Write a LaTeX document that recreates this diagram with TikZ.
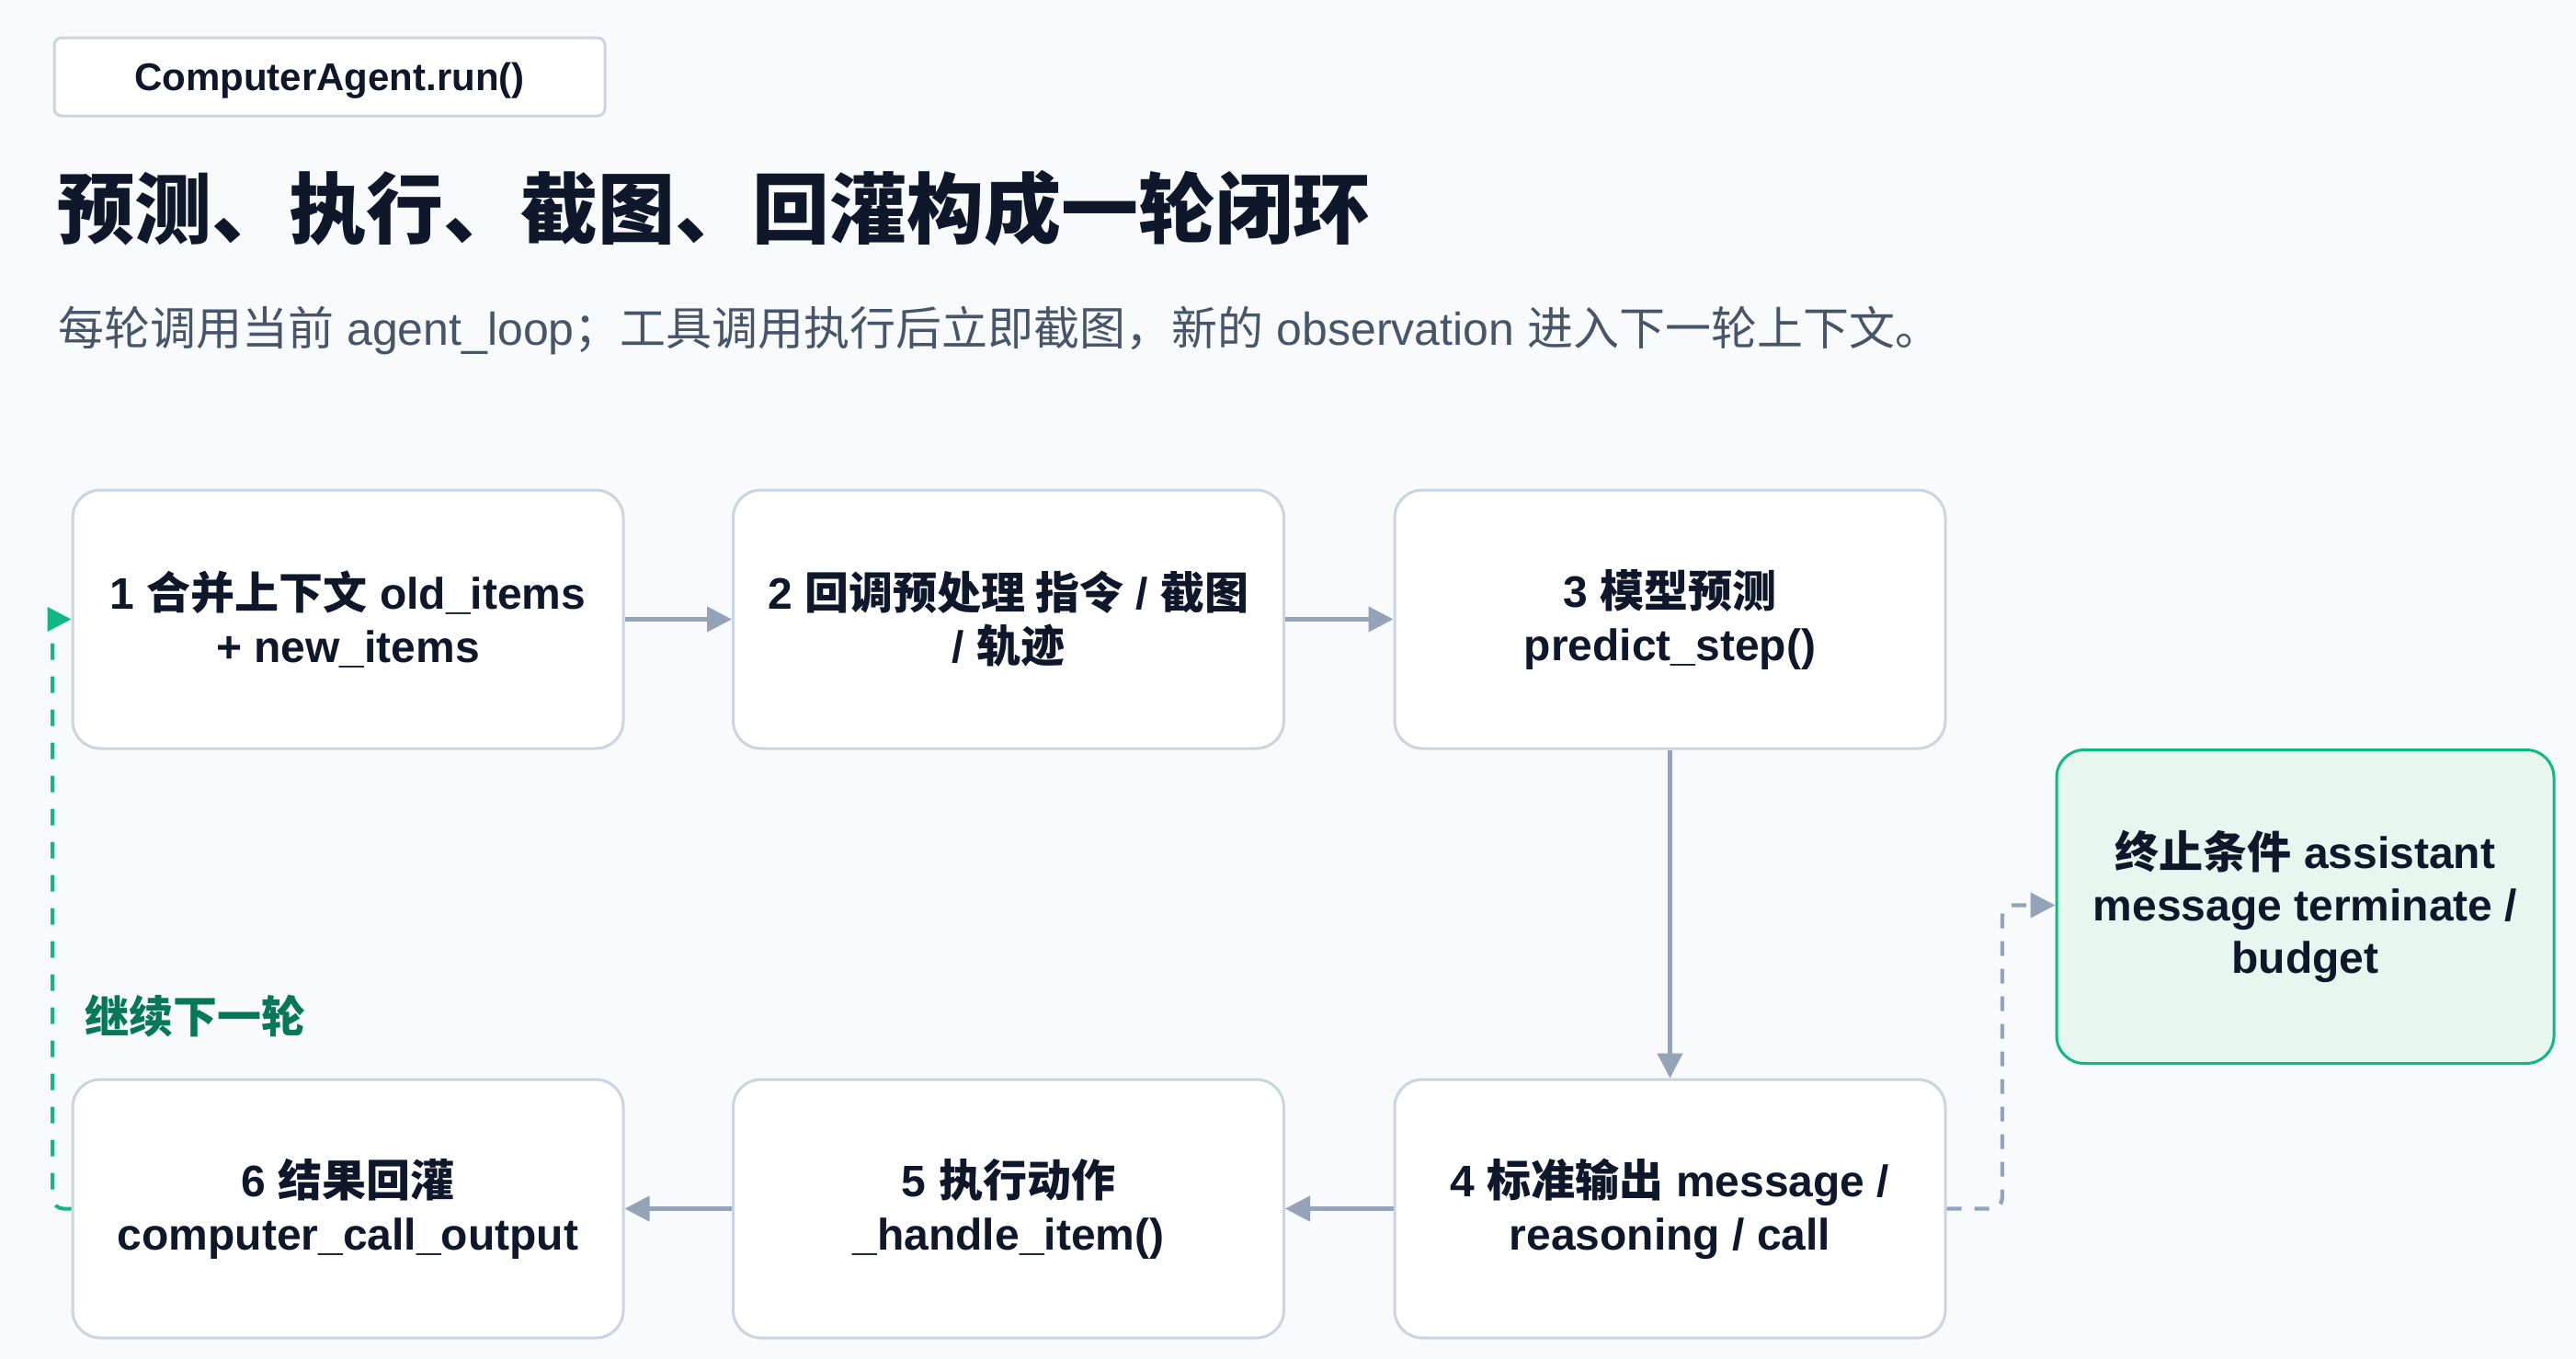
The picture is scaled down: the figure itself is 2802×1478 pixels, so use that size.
\documentclass[tikz,border=0pt]{standalone}
\usepackage{fontspec}
\setmainfont{Liberation Sans}
\newfontfamily\cjk{Noto Sans CJK SC}
\usetikzlibrary{arrows.meta}
\newcommand\zh[1]{{\cjk #1}}
\definecolor{bgc}{HTML}{F8FAFC}
\definecolor{bordc}{HTML}{CBD5E1}
\definecolor{arrc}{HTML}{94A3B8}
\definecolor{txtc}{HTML}{0F172A}
\definecolor{subc}{HTML}{475569}
\definecolor{grnline}{HTML}{10B981}
\definecolor{grnlab}{HTML}{047857}
\definecolor{termfill}{HTML}{E7F6EE}
\tikzset{
  stepbox/.style={draw=bordc, line width=1.5pt, fill=white, rounded corners=15pt,
    minimum width=299.5pt, minimum height=140.5pt, align=center, inner sep=0pt,
    text=txtc, font=\fontsize{24pt}{29pt}\selectfont\bfseries},
  termbox/.style={stepbox, draw=grnline, fill=termfill,
    minimum width=270.5pt, minimum height=170.5pt},
  flowarr/.style={draw=arrc, line width=2.2pt, -{Triangle[length=13.5pt,width=13.5pt]}},
  grayloop/.style={flowarr, dash pattern=on 8pt off 7pt, rounded corners=6pt},
  greenloop/.style={draw=grnline, line width=2pt, dash pattern=on 9pt off 9pt, rounded corners=6pt,
    -{Triangle[length=13pt,width=13pt]}}
}
\begin{document}
\begin{tikzpicture}[x=0.5pt,y=-0.5pt]
\fill[bgc] (0,0) rectangle (2802,1478);
\useasboundingbox (0,0) rectangle (2802,1478);

% header
\node[draw=bordc, line width=1.5pt, fill=white, rounded corners=4pt,
  minimum width=299.5pt, minimum height=42.5pt, inner sep=0pt, text=txtc,
  text height=15pt, text depth=0pt,
  font=\fontsize{21pt}{25pt}\selectfont\bfseries] (hdr) at (358.5,83.5) {ComputerAgent.run()};
\node[anchor=west, inner sep=0pt, text=txtc, font=\fontsize{42pt}{48pt}\selectfont\bfseries\cjk]
  (title) at (62,226) {预测、执行、截图、回灌构成一轮闭环};
\node[anchor=west, inner sep=0pt, text=subc, font=\fontsize{25pt}{30pt}\selectfont]
  (sub) at (63,360) {\zh{每轮调用当前} agent\_loop\zh{；工具调用执行后立即截图，新的} observation \zh{进入下一轮上下文。}};

% step boxes
\node[stepbox] (b1) at (378.5,673.5) {1 \zh{合并上下文} old\_items\\+ new\_items};
\node[stepbox] (b2) at (1097,673.5) {2 \zh{回调预处理 指令} / \zh{截图}\\/ \zh{轨迹}};
\node[stepbox] (b3) at (1816.5,673.5) {3 \zh{模型预测}\\predict\_step()};
\node[stepbox] (b4) at (1816.5,1314.5) {4 \zh{标准输出} message /\\reasoning / call};
\node[stepbox] (b5) at (1097,1314.5) {5 \zh{执行动作}\\\_handle\_item()};
\node[stepbox] (b6) at (378.5,1314.5) {6 \zh{结果回灌}\\computer\_call\_output};
\node[termbox, font=\fontsize{24pt}{28.5pt}\selectfont\bfseries] (term) at (2507.5,986) {\zh{终止条件} assistant\\message terminate /\\budget};

% connectors
\draw[flowarr] (b1) -- (b2);
\draw[flowarr] (b2) -- (b3);
\draw[flowarr] (b3) -- (b4);
\draw[flowarr] (b4) -- (b5);
\draw[flowarr] (b5) -- (b6);

\coordinate (gturn) at (2178,984.5);
\draw[grayloop] (b4.east) -| (gturn) -- (term.west |- gturn);

\coordinate (lturn) at (57,673.5);
\draw[greenloop] (b6.west) -| (lturn) -- (b1.west);

\node[anchor=west, inner sep=0pt, text=grnlab, font=\fontsize{24pt}{28pt}\selectfont\bfseries\cjk]
  (cont) at (92,1105) {继续下一轮};
\end{tikzpicture}
\end{document}
